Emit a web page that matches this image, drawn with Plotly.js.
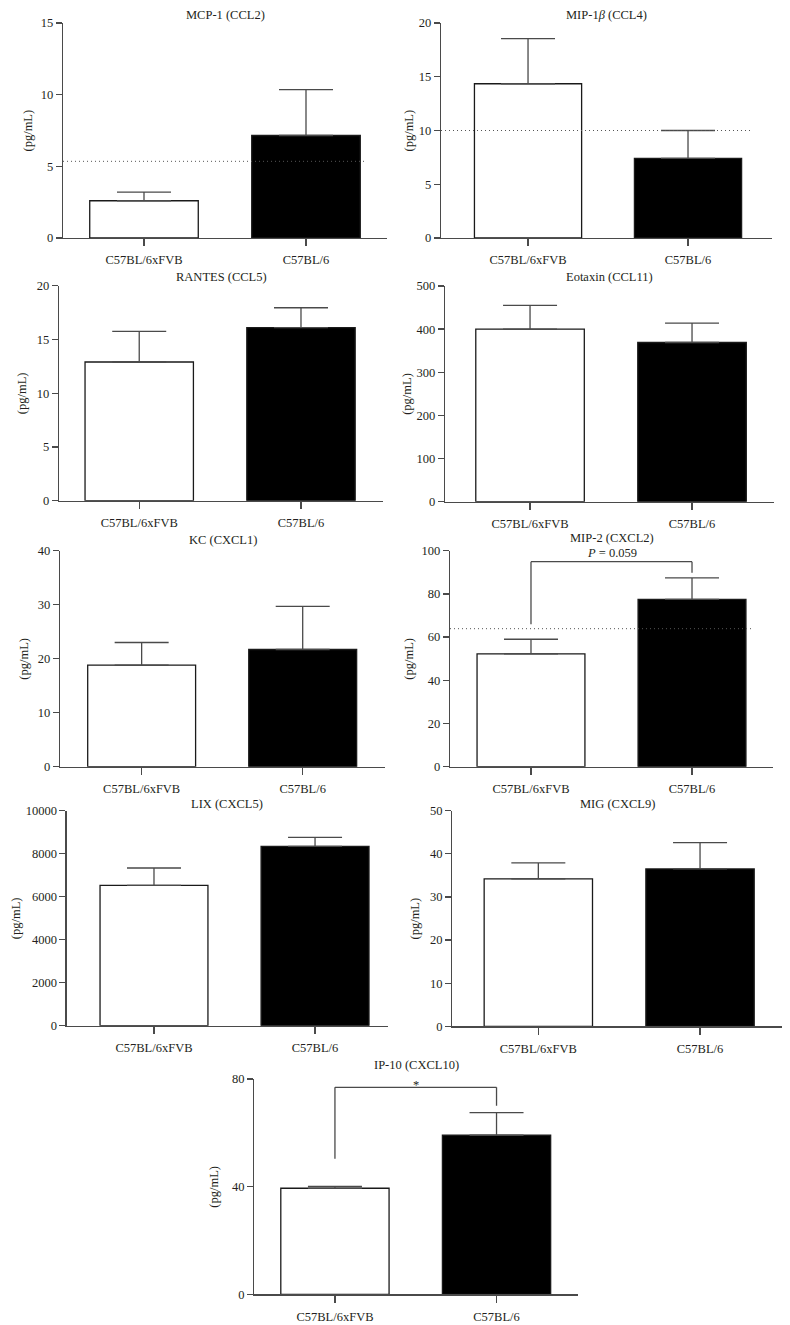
<!DOCTYPE html>
<html><head><meta charset="utf-8">
<script src="https://cdn.plot.ly/plotly-3.0.1.min.js"></script>
<style>html,body{margin:0;padding:0;background:#fff}#chart{width:790px;height:1325px}</style>
</head><body><div id="chart"></div>
<script>
// ---- data ----
const groups = ['C57BL/6xFVB', 'C57BL/6'];
const panelTitles = ['MCP-1 (CCL2)', 'MIP-1<i>β</i> (CCL4)', 'RANTES (CCL5)', 'Eotaxin (CCL11)',
  'KC (CXCL1)', 'MIP-2 (CXCL2)', 'LIX (CXCL5)', 'MIG (CXCL9)', 'IP-10 (CXCL10)'];
const yLabel = '(pg/mL)';

const mcp1Mean = [2.6, 7.15];    const mcp1Sem = [0.6, 3.2];
const mip1bMean = [14.35, 7.4];  const mip1bSem = [4.2, 2.6];
const rantesMean = [12.9, 16.1]; const rantesSem = [2.85, 1.85];
const eotaxinMean = [400, 369];  const eotaxinSem = [55, 45];
const kcMean = [18.8, 21.7];     const kcSem = [4.2, 8.0];
const mip2Mean = [52.2, 77.5];   const mip2Sem = [6.8, 9.9];
const lixMean = [6530, 8340];    const lixSem = [805, 420];
const migMean = [34.2, 36.5];    const migSem = [3.7, 6.1];
const ip10Mean = [39.4, 59.1];   const ip10Sem = [0.7, 8.4];

const mcp1Ticks = [0, 5, 10, 15];
const mip1bTicks = [0, 5, 10, 15, 20];
const rantesTicks = [0, 5, 10, 15, 20];
const eotaxinTicks = [0, 100, 200, 300, 400, 500];
const kcTicks = [0, 10, 20, 30, 40];
const mip2Ticks = [0, 20, 40, 60, 80, 100];
const lixTicks = [0, 2000, 4000, 6000, 8000, 10000];
const migTicks = [0, 10, 20, 30, 40, 50];
const ip10Ticks = [0, 40, 80];

const mcp1Threshold = 5.35;
const mip1bThreshold = 10.0;
const mip2Threshold = 63.9;

const mip2Bracket = [65.9, 94.9, 89.8];   // left foot, top, right foot
const ip10Bracket = [50.4, 76.9, 70.1];
const mip2Label = '<i>P</i> = 0.059';
const ip10Label = '*';

// ---- layout geometry (pixels) ----
const W = 790, H = 1325;
const fx = p => p / W;
const fy = p => 1 - p / H;

const means = [mcp1Mean, mip1bMean, rantesMean, eotaxinMean, kcMean, mip2Mean, lixMean, migMean, ip10Mean];
const sems = [mcp1Sem, mip1bSem, rantesSem, eotaxinSem, kcSem, mip2Sem, lixSem, migSem, ip10Sem];
const ticks = [mcp1Ticks, mip1bTicks, rantesTicks, eotaxinTicks, kcTicks, mip2Ticks, lixTicks, migTicks, ip10Ticks];

// [left, right, top, bottom] in px
const boxes = [
  [63, 387, 23, 238], [441, 772, 23, 238],
  [59, 383, 285.7, 500.7], [445, 774, 286, 501.7],
  [60, 385, 550.7, 766.7], [450, 773, 550.7, 766.7],
  [66.7, 388, 810.7, 1025.7], [452.3, 781.7, 810.7, 1026.3],
  [254.3, 578.3, 1079, 1294.3]
];
const xRanges = [[-0.5, 1.5], [-0.544, 1.525], [-0.496, 1.507], [-0.525, 1.506], [-0.507, 1.511],
  [-0.503, 1.503], [-0.542, 1.453], [-0.532, 1.505], [-0.499, 1.506]];
const titleY = [15, 15, 277, 277, 540, 538, 804, 804, 1065];
const yTitleX = [27, 408, 22, 407, 24, 409, 16, 414, 214];

const axisColor = '#4a4a4a';
const textColor = '#231f20';
const font = {family: 'Liberation Serif, Times New Roman, serif', size: 12.5, color: textColor};

const data = [];
const layout = {
  width: W, height: H, margin: {l: 0, r: 0, t: 0, b: 0},
  paper_bgcolor: '#fff', plot_bgcolor: 'rgba(0,0,0,0)',
  showlegend: false, font: font,
  shapes: [], annotations: []
};

for (let i = 0; i < 9; i++) {
  const s = i === 0 ? '' : String(i + 1);
  const [l, r, t, b] = boxes[i];
  const tk = ticks[i];
  data.push({
    type: 'bar', x: [0, 1], y: means[i], xaxis: 'x' + s, yaxis: 'y' + s,
    width: 0.67,
    marker: {color: ['#ffffff', '#000000'], line: {color: '#1a1a1a', width: 1.3}},
    error_y: {type: 'data', symmetric: false, array: sems[i], arrayminus: [0, 0],
      color: axisColor, thickness: 1.3, width: 27},
    hoverinfo: 'skip'
  });
  layout['xaxis' + s] = {
    domain: [fx(l), fx(r)], range: xRanges[i], anchor: 'y' + s,
    tickvals: [0, 1], ticktext: groups, showline: true, linecolor: axisColor, linewidth: 1.3,
    ticks: 'outside', ticklen: 7, tickcolor: axisColor, tickwidth: 1.3,
    showgrid: false, zeroline: false, fixedrange: true, tickfont: font, ticklabelstandoff: 3
  };
  layout['yaxis' + s] = {
    domain: [fy(b), fy(t)], range: [0, tk[tk.length - 1]], anchor: 'x' + s,
    tickvals: tk, ticktext: tk.map(String), showline: true, linecolor: axisColor, linewidth: 1.3,
    ticks: 'outside', ticklen: 6, tickcolor: axisColor, tickwidth: 1.3,
    showgrid: false, zeroline: false, fixedrange: true, tickfont: font
  };
  layout.annotations.push({
    text: panelTitles[i], xref: 'paper', yref: 'paper',
    x: fx((l + r) / 2), y: fy(titleY[i]), xanchor: 'center', yanchor: 'middle',
    showarrow: false, font: font
  });
  layout.annotations.push({
    text: yLabel, xref: 'paper', yref: 'paper', textangle: -90,
    x: fx(yTitleX[i]), y: fy((t + b) / 2), xanchor: 'center', yanchor: 'middle',
    showarrow: false, font: font
  });
}

// dotted detection-limit lines
[[0, mcp1Threshold], [1, mip1bThreshold], [5, mip2Threshold]].forEach(([i, v]) => {
  const s = i === 0 ? '' : String(i + 1);
  layout.shapes.push({type: 'line', xref: 'x' + s + ' domain', yref: 'y' + s,
    x0: 0, x1: 0.935, y0: v, y1: v, line: {color: '#555', width: 1, dash: '1px,3px'}, layer: 'above'});
});

// significance brackets
function bracket(s, yb, label, ylab, yshift) {
  const ln = {color: axisColor, width: 1.3};
  layout.shapes.push({type: 'line', xref: 'x' + s, yref: 'y' + s, x0: 0, x1: 0, y0: yb[0], y1: yb[1], line: ln});
  layout.shapes.push({type: 'line', xref: 'x' + s, yref: 'y' + s, x0: 0, x1: 1, y0: yb[1], y1: yb[1], line: ln});
  layout.shapes.push({type: 'line', xref: 'x' + s, yref: 'y' + s, x0: 1, x1: 1, y0: yb[1], y1: yb[2], line: ln});
  layout.annotations.push({text: label, xref: 'x' + s, yref: 'y' + s, x: 0.5, y: ylab,
    xanchor: 'center', yanchor: 'middle', yshift: yshift, showarrow: false, font: font});
}
bracket('6', mip2Bracket, mip2Label, 98.9, 0);
bracket('9', ip10Bracket, ip10Label, 79, -3);

Plotly.newPlot('chart', data, layout, {staticPlot: true, displayModeBar: false});
</script></body></html>
